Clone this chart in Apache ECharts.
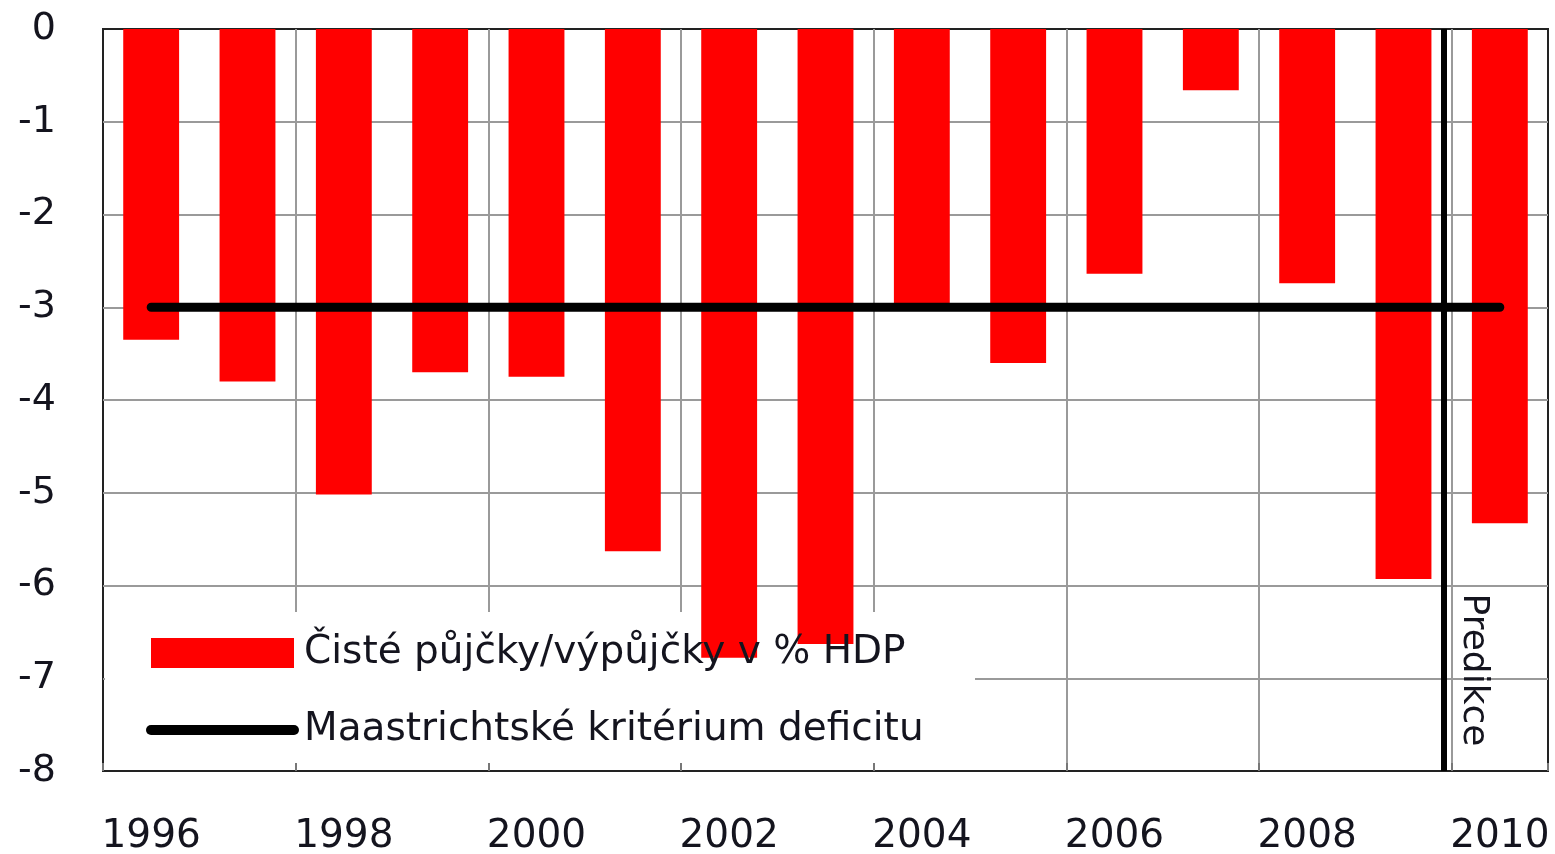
<!DOCTYPE html>
<html>
<head>
<meta charset="utf-8">
<script src="https://cdn.jsdelivr.net/npm/echarts@6/dist/echarts.min.js"></script>
<style>
html,body{margin:0;padding:0;background:#fff;}
#chart{width:1555px;height:854px;}
</style>
</head>
<body>
<div id="chart"></div>
<script>
var years = ['1996','1997','1998','1999','2000','2001','2002','2003','2004','2005','2006','2007','2008','2009','2010'];
var netLending = [-3.35,-3.80,-5.02,-3.70,-3.75,-5.63,-6.78,-6.63,-2.97,-3.60,-2.64,-0.66,-2.74,-5.93,-5.33];
var maastricht = [-3,-3,-3,-3,-3,-3,-3,-3,-3,-3,-3,-3,-3,-3,-3];
var predictionBoundary = 13.92;
var yTicks = { min: -8, max: 0, interval: 1 };
var seriesNames = ['Čisté půjčky/výpůjčky v % HDP', 'Maastrichtské kritérium deficitu'];
var predictionLabel = 'Predikce';

var FONT = 'DejaVu Sans';
var TXT = '#14141e';
var chart = echarts.init(document.getElementById('chart'));
chart.setOption({
  animation: false,
  backgroundColor: '#fff',
  grid: { left: 103, right: 7, top: 29, bottom: 83, outerBoundsMode: 'none', containLabel: false,
          show: true, borderColor: '#222', borderWidth: 2, backgroundColor: 'transparent' },
  legend: {
    orient: 'vertical', left: 141, top: 628, itemWidth: 143, itemHeight: 30, itemGap: 37,
    data: [
      { name: seriesNames[0], icon: 'rect' },
      { name: seriesNames[1], itemStyle: { opacity: 0 }, lineStyle: { width: 10, cap: 'round', color: '#000' } }
    ],
    textStyle: { fontFamily: FONT, fontSize: 39, color: TXT, lineHeight: 40, padding: [0,0,0,5] }
  },
  xAxis: [
    { type: 'category', data: years, gridIndex: 0,
      axisLine: { show: false }, axisTick: { show: false },
      axisLabel: { interval: 1, fontFamily: FONT, fontSize: 39, color: TXT, margin: 46 },
      splitLine: { show: true, interval: 1, showMinLine: false, showMaxLine: false, lineStyle: { color: '#9a9a9a', width: 2 } } },
    { type: 'value', min: 0, max: 15, show: false, gridIndex: 0 },
    { type: 'category', data: years, gridIndex: 0, position: 'bottom', z: 3,
      axisLine: { show: false }, axisLabel: { show: false }, splitLine: { show: false },
      axisTick: { show: true, inside: true, length: 8, interval: 1, lineStyle: { color: '#777', width: 2 } } }
  ],
  yAxis: {
    type: 'value', min: yTicks.min, max: yTicks.max, interval: yTicks.interval,
    axisLine: { show: false }, axisTick: { show: false },
    axisLabel: { fontFamily: FONT, fontSize: 38, color: TXT, margin: 47 },
    splitLine: { show: true, showMinLine: false, showMaxLine: false, lineStyle: { color: '#9a9a9a', width: 2 } }
  },
  graphic: [
    { type: 'rect', z: 1, shape: { x: 105, y: 612, width: 870, height: 157 }, style: { fill: '#fff' }, silent: true },
    { type: 'text', z: 10, x: 1473, y: 670, rotation: -Math.PI / 2,
      style: { text: predictionLabel, fontFamily: FONT, fontSize: 36, fill: TXT, align: 'center', verticalAlign: 'middle' } }
  ],
  series: [
    { name: seriesNames[0], type: 'bar', data: netLending, barWidth: '58%', z: 2,
      itemStyle: { color: '#ff0000' } },
    { name: seriesNames[1], type: 'line', data: maastricht, z: 5, symbol: 'none', showSymbol: false,
      lineStyle: { color: '#000', width: 9, cap: 'round' }, itemStyle: { color: '#000' } },
    { type: 'line', xAxisIndex: 1, data: [], z: 6,
      markLine: { silent: true, symbol: 'none', label: { show: false },
        lineStyle: { color: '#000', width: 6, type: 'solid' },
        data: [{ xAxis: predictionBoundary }] } }
  ]
});
</script>
</body>
</html>
